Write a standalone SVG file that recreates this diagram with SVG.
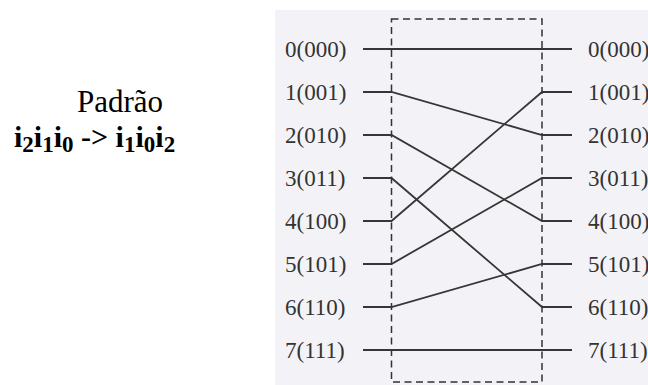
<svg xmlns="http://www.w3.org/2000/svg" width="648" height="385" viewBox="0 0 648 385">
<style>
.lbl{font-family:"Liberation Serif","Times New Roman",serif;font-size:23px;fill:#333}
.ln{stroke:#363636;stroke-width:1.8;fill:none}
.box{stroke:#333;stroke-width:1.5;fill:none;stroke-dasharray:7 4.5}
.title{font-family:"Liberation Serif","Times New Roman",serif;fill:#000}
.sub{font-size:23px}
</style>
<rect x="0" y="0" width="648" height="385" fill="#fff"/>
<rect x="275" y="10" width="373" height="375" fill="#f3f3f7"/>
<g id="title">
<text class="title" x="120" y="111.5" font-size="31" text-anchor="middle">Padrão</text>
<text class="title" x="14" y="146.5" font-size="30" font-weight="bold">i<tspan class="sub" dy="5">2</tspan><tspan dy="-5">i</tspan><tspan class="sub" dy="5">1</tspan><tspan dy="-5">i</tspan><tspan class="sub" dy="5">0</tspan><tspan dy="-5"> -&gt; i</tspan><tspan class="sub" dy="5">1</tspan><tspan dy="-5">i</tspan><tspan class="sub" dy="5">0</tspan><tspan dy="-5">i</tspan><tspan class="sub" dy="5">2</tspan></text>
</g>
<g id="box"><rect class="box" x="391.5" y="19" width="150.5" height="363"/></g>
<g id="inputs">
<text class="lbl" x="285" y="57">0(000)</text>
<text class="lbl" x="285" y="100">1(001)</text>
<text class="lbl" x="285" y="143">2(010)</text>
<text class="lbl" x="285" y="186">3(011)</text>
<text class="lbl" x="285" y="229">4(100)</text>
<text class="lbl" x="285" y="272">5(101)</text>
<text class="lbl" x="285" y="315">6(110)</text>
<text class="lbl" x="285" y="358">7(111)</text>
</g>
<g id="outputs">
<text class="lbl" x="588" y="57">0(000)</text>
<text class="lbl" x="588" y="100">1(001)</text>
<text class="lbl" x="588" y="143">2(010)</text>
<text class="lbl" x="588" y="186">3(011)</text>
<text class="lbl" x="588" y="229">4(100)</text>
<text class="lbl" x="588" y="272">5(101)</text>
<text class="lbl" x="588" y="315">6(110)</text>
<text class="lbl" x="588" y="358">7(111)</text>
</g>
<g id="connectors">
<path class="ln" d="M363 49H572" stroke="#2c3e58"/>
<path class="ln" d="M363 92H391.5L542 135H572"/>
<path class="ln" d="M363 135H391.5L542 221H572"/>
<path class="ln" d="M363 178H391.5L542 307H572"/>
<path class="ln" d="M363 221H391.5L542 92H572"/>
<path class="ln" d="M363 264H391.5L542 178H572"/>
<path class="ln" d="M363 307H391.5L542 264H572"/>
<path class="ln" d="M363 350H572" stroke="#3a3a28"/>
</g>
</svg>
